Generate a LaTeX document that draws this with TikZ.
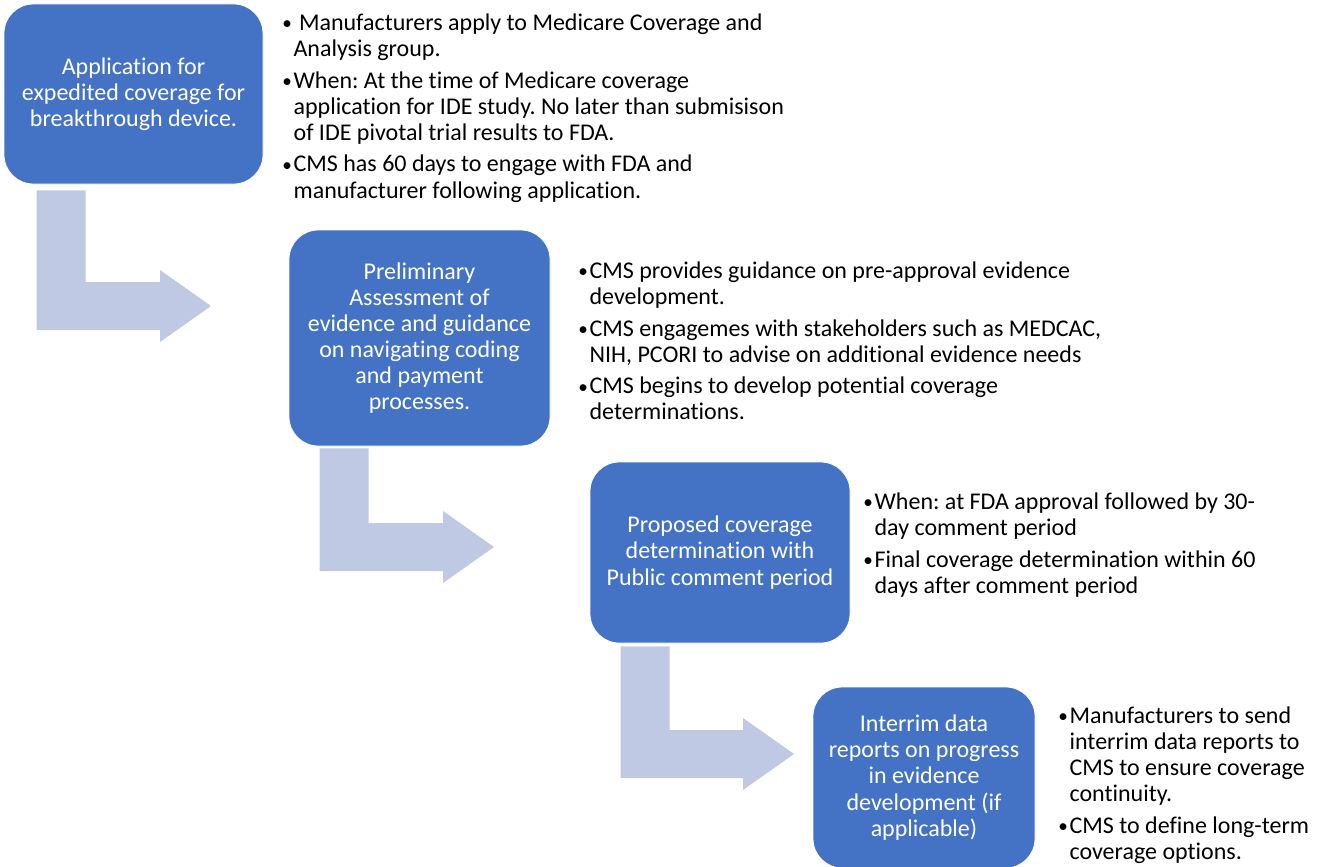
\documentclass[tikz,border=0pt]{standalone}
\usepackage{fontspec}
\setmainfont{Carlito}[Ligatures={NoCommon,NoContextual}]
\usetikzlibrary{calc}

\definecolor{stageblue}{HTML}{4472C4}
\definecolor{arrowblue}{HTML}{BFC9E3}

\tikzset{
  stage/.style={draw=white, line width=0.6pt, fill=stageblue, rounded corners=22pt,
    text=white, align=center, inner sep=0pt, font=\fontsize{18}{19.6}\selectfont},
  notes/.style={anchor=north west, inner sep=0pt, font=\fontsize{18}{19.6}\selectfont}
}

% bent arrow: top left corner of the stem (#1), arrow tip (#2)
\newcommand{\bentarrow}[2]{%
  \fill[arrowblue] let \p1=#1, \p2=#2 in
    (\x1,\y1) -- (\x1+36.75pt,\y1) -- (\x1+36.75pt,\y2+18pt) -- (\x2-38.25pt,\y2+18pt)
    -- (\x2-38.25pt,\y2+27pt) -- (\x2,\y2) -- (\x2-38.25pt,\y2-27pt)
    -- (\x2-38.25pt,\y2-18pt) -- (\x1,\y2-18pt) -- cycle;}

% bullet column of the note lists
\newcommand{\bl}{\makebox[0pt][l]{\hspace{-1.5pt}\raisebox{0.5pt}{\scalebox{0.8}{\textbullet}}}}

\frenchspacing

\begin{document}
\begin{tikzpicture}[x=0.75pt,y=-0.75pt]
  \useasboundingbox (0,0) rectangle (1335,867);

  % Stages
  \node[stage, minimum width=194.25pt, minimum height=135pt] (app) at (133.5,94)
    {Application for\\expedited coverage for\\breakthrough device.};
  \node[stage, minimum width=195.75pt, minimum height=162pt] (prelim) at (419.5,338)
    {Preliminary\\Assessment of\\evidence and guidance\\on navigating coding\\and payment\\processes.};
  \node[stage, minimum width=195pt, minimum height=135.75pt] (proposed) at (720,552.5)
    {Proposed coverage\\determination with\\Public comment period};
  \node[stage, minimum width=166.5pt, minimum height=135.75pt] (interim) at (924,777.5)
    {Interrim data\\reports on progress\\in evidence\\development (if\\applicable)};

  % Bent arrows between the stages
  \coordinate (t1) at (211,306);
  \coordinate (t2) at (494,547);
  \coordinate (t3) at (794,754);
  \bentarrow{($(app.south west)+(33,6)$)}{(t1)}
  \bentarrow{($(prelim.south west)+(31,2)$)}{(t2)}
  \bentarrow{($(proposed.south west)+(31,3)$)}{(t3)}

  % Notes beside each stage
  \node[notes] (appnotes) at (284,12) {%
    \begin{tabular}{@{}p{7pt}@{}l@{}}
      \bl & \ Manufacturers apply to Medicare Coverage and\\
          & Analysis group.\\[4pt]
      \bl & When: At the time of Medicare coverage\\
          & application for IDE study. No later than submisison\\
          & of IDE pivotal trial results to FDA.\\[4pt]
      \bl & CMS has 60 days to engage with FDA and\\
          & manufacturer following application.
    \end{tabular}};
  \node[notes] (prelimnotes) at (580,260) {%
    \begin{tabular}{@{}p{7pt}@{}l@{}}
      \bl & CMS provides guidance on pre-approval evidence\\
          & development.\\[4pt]
      \bl & CMS engagemes with stakeholders such as MEDCAC,\\
          & NIH, PCORI to advise on additional evidence needs\\[4pt]
      \bl & CMS begins to develop potential coverage\\
          & determinations.
    \end{tabular}};
  \node[notes] (proposednotes) at (865,491) {%
    \begin{tabular}{@{}p{7pt}@{}l@{}}
      \bl & When: at FDA approval followed by 30-\\
          & day comment period\\[4pt]
      \bl & Final coverage determination within 60\\
          & days after comment period
    \end{tabular}};
  \node[notes] (interimnotes) at (1060,705) {%
    \begin{tabular}{@{}p{7pt}@{}l@{}}
      \bl & Manufacturers to send\\
          & interrim data reports to\\
          & CMS to ensure coverage\\
          & continuity.\\[4pt]
      \bl & CMS to define long-term\\
          & coverage options.
    \end{tabular}};
\end{tikzpicture}
\end{document}
